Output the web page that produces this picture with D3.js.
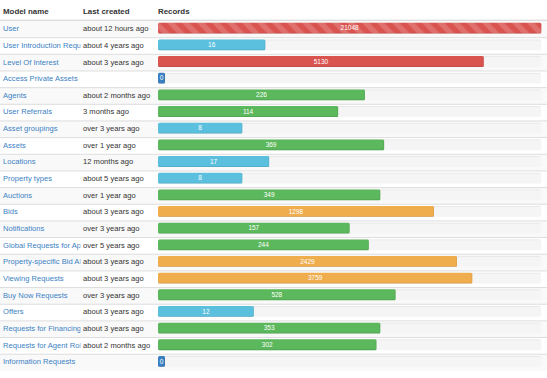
<!DOCTYPE html>
<html>
<head>
<meta charset="utf-8">
<script src="https://cdn.jsdelivr.net/npm/d3@7"></script>
<style>
  html, body { margin: 0; padding: 0; background: #fff; }
  svg { display: block; font-family: "Liberation Sans", Arial, Helvetica, sans-serif; }
</style>
</head>
<body>
<svg id="chart" width="547" height="378"></svg>
<script>
const headers = ["Model name", "Last created", "Records"];
const models = [
  "User", "User Introduction Requests", "Level Of Interest", "Access Private Assets Requests",
  "Agents", "User Referrals", "Asset groupings", "Assets", "Locations", "Property types",
  "Auctions", "Bids", "Notifications", "Global Requests for Appraisal",
  "Property-specific Bid Alerts", "Viewing Requests", "Buy Now Requests", "Offers",
  "Requests for Financing", "Requests for Agent Roles", "Information Requests"
];
const lastCreated = [
  "about 12 hours ago", "about 4 years ago", "about 3 years ago", "",
  "about 2 months ago", "3 months ago", "over 3 years ago", "over 1 year ago", "12 months ago",
  "about 5 years ago", "over 1 year ago", "about 3 years ago", "over 3 years ago",
  "over 5 years ago", "about 3 years ago", "about 3 years ago", "over 3 years ago",
  "about 3 years ago", "about 3 years ago", "about 2 months ago", ""
];
const records = [21048, 16, 5130, 0, 226, 114, 8, 369, 17, 8, 349, 1298, 157, 244, 2429, 3759, 528, 12, 353, 302, 0];

const W = 547;
const svg = d3.select("#chart");
const rowTop = 20.8, rowH = 16.66;
const col1 = 3, col2 = 83, barX = 158, barEnd = 541.3;
const trackW = barEnd - barX;
const barH = 10.8;
const clip1W = 80.5;

const y = d3.scaleBand().domain(models).range([rowTop, rowTop + rowH * models.length]).padding(0);
const maxRec = d3.max(records);
const pct = d3.scaleSymlog().constant(1).domain([0, maxRec]).range([0, 100]);
const x = d3.scaleLinear().domain([0, 100]).range([0, trackW]);

function barColor(v) {
  if (v <= 0) return "#3a7fc1";
  const p = Math.floor(pct(v));
  if (p < 34) return "#5bc0de";
  if (p < 67) return "#5cb85c";
  if (p < 84) return "#f0ad4e";
  return "#d9534f";
}

const defs = svg.append("defs");
const pat = defs.append("pattern").attr("id", "stripes").attr("patternUnits", "userSpaceOnUse")
  .attr("width", 10.6).attr("height", 10.6).attr("patternTransform", "rotate(-45)");
pat.append("rect").attr("x", 0).attr("y", 0).attr("width", 5.3).attr("height", 10.6).attr("fill", "rgba(255,255,255,0.17)");
defs.append("clipPath").attr("id", "clip1").append("rect").attr("x", 0).attr("y", 0).attr("width", clip1W).attr("height", 378);
defs.append("clipPath").attr("id", "clip2").append("rect").attr("x", 80.5).attr("y", 0).attr("width", 74).attr("height", 378);

// header
const hx = [col1, col2, barX];
svg.selectAll("text.h").data(headers).join("text").attr("class", "h")
  .attr("x", (d, i) => hx[i]).attr("y", 14.2)
  .attr("font-size", 7.9).attr("font-weight", "bold").attr("fill", "#333").text(d => d);
svg.append("rect").attr("x", 0).attr("y", rowTop - 1.2).attr("width", W).attr("height", 1.6).attr("fill", "#ddd");

const rows = svg.selectAll("g.row").data(models).join("g").attr("class", "row")
  .attr("transform", d => `translate(0,${y(d)})`);

rows.append("rect").attr("x", 0).attr("y", 0.5).attr("width", W).attr("height", y.bandwidth() - 0.5)
  .attr("fill", (d, i) => i % 2 === 0 ? "#f9f9f9" : "#fff");
rows.filter((d, i) => i > 0).append("rect").attr("x", 0).attr("y", -0.3).attr("width", W).attr("height", 1).attr("fill", "#ddd");

rows.append("text").attr("x", col1).attr("y", 10.4).attr("font-size", 7.6).attr("fill", "#3b82c4")
  .attr("clip-path", "url(#clip1)").text(d => d)
  .each(function(d) {
    // cell overflow: keep the characters that fit in the column (last one may be cut by the clip)
    const t = d3.select(this);
    let s = d;
    while (s.length > 1 && col1 + this.getComputedTextLength() > clip1W + 1.5) {
      s = s.slice(0, -1);
      t.text(s);
    }
  });
rows.append("text").attr("x", col2).attr("y", 10.4).attr("font-size", 7.6).attr("fill", "#333")
  .attr("clip-path", "url(#clip2)").text((d, i) => lastCreated[i]);

// track
rows.append("rect").attr("x", barX).attr("y", 2).attr("width", trackW).attr("height", barH)
  .attr("rx", 2).attr("fill", "#f5f5f5");
rows.append("rect").attr("x", barX + 1).attr("y", 2).attr("width", trackW - 2).attr("height", 1)
  .attr("fill", "rgba(0,0,0,0.05)");

// bars
rows.each(function(d, i) {
  const g = d3.select(this);
  const v = records[i];
  const w = v > 0 ? x(Math.floor(pct(v))) : 7;
  const c = barColor(v);
  g.append("rect").attr("x", barX).attr("y", 2).attr("width", w).attr("height", barH)
    .attr("rx", 1.5).attr("fill", c);
  g.append("rect").attr("x", barX + 0.5).attr("y", 2 + barH - 0.8).attr("width", Math.max(0, w - 1)).attr("height", 0.8)
    .attr("fill", "rgba(0,0,0,0.12)");
  g.append("rect").attr("x", barX + w - 0.8).attr("y", 2).attr("width", 0.8).attr("height", barH)
    .attr("fill", "rgba(0,0,0,0.08)");
  if (i === 0) {
    g.append("rect").attr("x", barX).attr("y", 2).attr("width", w).attr("height", barH)
      .attr("rx", 1.5).attr("fill", "url(#stripes)");
  }
  g.append("text").attr("x", barX + w / 2).attr("y", 2 + barH / 2 + 2.3)
    .attr("text-anchor", "middle").attr("font-size", 6.5).attr("fill", "#fff").text(v);
});
</script>
</body>
</html>
